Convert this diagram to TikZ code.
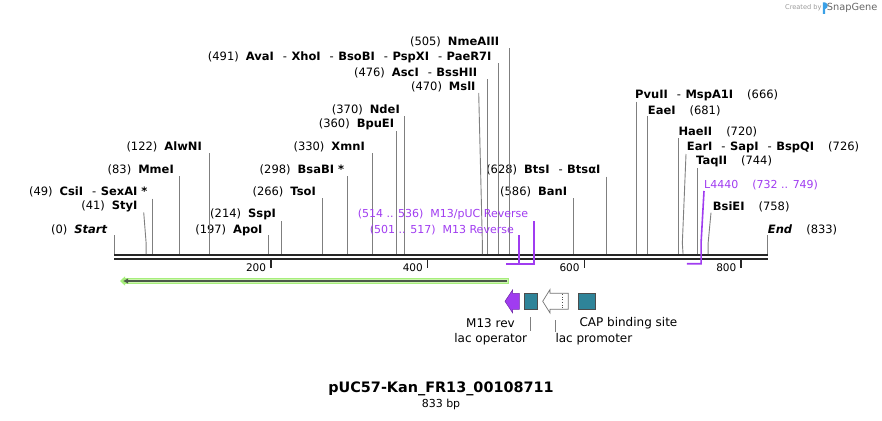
\documentclass[tikz,border=0pt]{standalone}
\usepackage{fontspec}
\setmainfont{DejaVu Sans}
\usetikzlibrary{calc,arrows.meta}
\definecolor{primer}{HTML}{A03CF0}
\definecolor{feat}{HTML}{2F8499}
\definecolor{orf}{HTML}{A6EE7C}
\definecolor{orfin}{HTML}{CDF6AE}
\definecolor{orfline}{HTML}{4A5848}
\definecolor{cutgray}{HTML}{7F7F7F}
\definecolor{snapblue}{HTML}{3AA0E6}
\newcommand{\bpx}[1]{114+#1*0.7838}
\newcommand{\enzl}[1]{(#1)\hspace{7pt}}
\newcommand{\enzr}[1]{\hspace{14pt}(#1)}
\newcommand{\enzsep}{\hspace{9pt}-\hspace{4.5pt}}

\begin{document}
\begin{tikzpicture}[x=1pt,y=-1pt,
    site/.style={inner sep=0pt,font=\fontsize{11.5}{13}\selectfont},
    prim/.style={inner sep=0pt,text=primer,font=\fontsize{11}{13}\selectfont},
    featlabel/.style={inner sep=0pt,font=\fontsize{12}{14}\selectfont},
    cut/.style={draw=cutgray,line width=0.9pt},
    primline/.style={draw=primer,line width=1.6pt},
    seqbar/.style={draw=black!85,line width=2.2pt},
    tick/.style={draw=black!85,line width=1.5pt},
    featbox/.style={draw=black!70,fill=feat,line width=0.6pt,inner sep=0pt,
        minimum width=13.7pt,minimum height=16pt}]
    \useasboundingbox (0,0) rectangle (882,420);

    % sequence
    \draw[seqbar] (114,255) -- (768,255);
    \draw[seqbar] (114,259) -- (768,259);
    \foreach \t in {200,400,600,800}{
        \draw[tick] ({\bpx{\t}},259) -- ++(0,8.7);
        \node[inner sep=0pt,anchor=east,font=\fontsize{10.5}{12}\selectfont]
            at ({\bpx{\t}-4.5},267.3) {\t};
    }

    % cut sites on the sequence
    \coordinate (sStart) at (114,254);
    \coordinate (sStyI) at ({\bpx{41}},254);
    \coordinate (sCsiI) at ({\bpx{49}},254);
    \coordinate (sMmeI) at ({\bpx{83}},254);
    \coordinate (sAlwNI) at ({\bpx{122}},254);
    \coordinate (sApoI) at ({\bpx{197}},254);
    \coordinate (sSspI) at ({\bpx{214}},254);
    \coordinate (sTsoI) at ({\bpx{266}},254);
    \coordinate (sBsaBI) at ({\bpx{298}},254);
    \coordinate (sXmnI) at ({\bpx{330}},254);
    \coordinate (sBpuEI) at ({\bpx{360}},254);
    \coordinate (sNdeI) at ({\bpx{370}},254);
    \coordinate (sMslI) at ({\bpx{470}},254);
    \coordinate (sAscI) at ({\bpx{476}},254);
    \coordinate (sAvaI) at ({\bpx{491}},254);
    \coordinate (sNmeAIII) at ({\bpx{505}},254);
    \coordinate (sBanI) at ({\bpx{586}},254);
    \coordinate (sBtsI) at ({\bpx{628}},254);
    \coordinate (sPvuII) at ({\bpx{666}},254);
    \coordinate (sEaeI) at ({\bpx{681}},254);
    \coordinate (sHaeII) at ({\bpx{720}},254);
    \coordinate (sEarI) at ({\bpx{726}},254);
    \coordinate (sTaqII) at ({\bpx{744}},254);
    \coordinate (sBsiEI) at ({\bpx{758}},254);
    \coordinate (sEnd) at (767.7,254);

    % labels left of their site
    \node[site,anchor=east] (lStart) at (107.7,230) {\enzl{0}\textbf{\textit{Start}}};
    \node[site,anchor=east] (lStyI) at (137.7,206.7) {\enzl{41}\textbf{StyI}};
    \node[site,anchor=east] (lCsiI) at (147.7,191.7) {\enzl{49}\textbf{CsiI}\enzsep\textbf{SexAI *}};
    \node[site,anchor=east] (lMmeI) at (174,170) {\enzl{83}\textbf{MmeI}};
    \node[site,anchor=east] (lAlwNI) at (202,146.7) {\enzl{122}\textbf{AlwNI}};
    \node[site,anchor=east] (lApoI) at (262.7,230) {\enzl{197}\textbf{ApoI}};
    \node[site,anchor=east] (lSspI) at (276,214.3) {\enzl{214}\textbf{SspI}};
    \node[site,anchor=east] (lTsoI) at (316,192.3) {\enzl{266}\textbf{TsoI}};
    \node[site,anchor=east] (lBsaBI) at (344.3,169.5) {\enzl{298}\textbf{BsaBI *}};
    \node[site,anchor=east] (lXmnI) at (365,146.7) {\enzl{330}\textbf{XmnI}};
    \node[site,anchor=east] (lBpuEI) at (394.3,124.5) {\enzl{360}\textbf{BpuEI}};
    \node[site,anchor=east] (lNdeI) at (400,109.5) {\enzl{370}\textbf{NdeI}};
    \node[site,anchor=east] (lMslI) at (475.7,87.3) {\enzl{470}\textbf{MslI}};
    \node[site,anchor=east] (lAscI) at (477.3,72.7) {\enzl{476}\textbf{AscI}\enzsep\textbf{BssHII}};
    \node[site,anchor=east] (lAvaI) at (491.7,57.3) {\enzl{491}\textbf{AvaI}\enzsep\textbf{XhoI}\enzsep\textbf{BsoBI}\enzsep\textbf{PspXI}\enzsep\textbf{PaeR7I}};
    \node[site,anchor=east] (lNmeAIII) at (499.3,42.3) {\enzl{505}\textbf{NmeAIII}};
    \node[site,anchor=east] (lBanI) at (567.3,191.7) {\enzl{586}\textbf{BanI}};
    \node[site,anchor=east] (lBtsI) at (600.7,169.5) {\enzl{628}\textbf{BtsI}\enzsep\textbf{BtsαI}};

    % labels right of their site
    \node[site,anchor=west] (lPvuII) at (635,95) {\textbf{PvuII}\enzsep\textbf{MspA1I}\enzr{666}};
    \node[site,anchor=west] (lEaeI) at (647.7,110.5) {\textbf{EaeI}\enzr{681}};
    \node[site,anchor=west] (lHaeII) at (678.3,132) {\textbf{HaeII}\enzr{720}};
    \node[site,anchor=west] (lEarI) at (686.7,147.3) {\textbf{EarI}\enzsep\textbf{SapI}\enzsep\textbf{BspQI}\enzr{726}};
    \node[site,anchor=west] (lTaqII) at (696,161.7) {\textbf{TaqII}\enzr{744}};
    \node[site,anchor=west] (lBsiEI) at (712.7,206.7) {\textbf{BsiEI}\enzr{758}};
    \node[site,anchor=west] (lEnd) at (767.7,230) {\textbf{\textit{End}}\enzr{833}};

    \draw[cut] (lStart.east -| sStart) ++(0,5) -- (sStart);
    \draw[cut] ($(lStyI.east)+(6,5.6)$) -- ($(sStyI)+(0,-10.7)$) -- (sStyI);
    \draw[cut] (lCsiI.east -| sCsiI) ++(0,7) -- (sCsiI);
    \draw[cut] (lMmeI.east -| sMmeI) ++(0,6) -- (sMmeI);
    \draw[cut] (lAlwNI.east -| sAlwNI) ++(0,6.5) -- (sAlwNI);
    \draw[cut] (lApoI.east -| sApoI) ++(0,5) -- (sApoI);
    \draw[cut] (lSspI.east -| sSspI) ++(0,6.7) -- (sSspI);
    \draw[cut] (lTsoI.east -| sTsoI) ++(0,6) -- (sTsoI);
    \draw[cut] (lBsaBI.east -| sBsaBI) ++(0,6.5) -- (sBsaBI);
    \draw[cut] (lXmnI.east -| sXmnI) ++(0,6.5) -- (sXmnI);
    \draw[cut] (lBpuEI.east -| sBpuEI) ++(0,6.5) -- (sBpuEI);
    \draw[cut] (lNdeI.east -| sNdeI) ++(0,6.5) -- (sNdeI);
    \draw[cut] ($(lMslI.east)+(3,5.7)$) -- ($(sMslI)+(0,-10)$) -- (sMslI);
    \draw[cut] (lAscI.east -| sAscI) ++(0,6.5) -- (sAscI);
    \draw[cut] (lAvaI.east -| sAvaI) ++(0,6) -- (sAvaI);
    \draw[cut] (lNmeAIII.east -| sNmeAIII) ++(0,6) -- (sNmeAIII);
    \draw[cut] (lBanI.east -| sBanI) ++(0,6.6) -- (sBanI);
    \draw[cut] (lBtsI.east -| sBtsI) ++(0,7) -- (sBtsI);
    \draw[cut] (lPvuII.west -| sPvuII) ++(0,6.5) -- (sPvuII);
    \draw[cut] (lEaeI.west -| sEaeI) ++(0,5.5) -- (sEaeI);
    \draw[cut] (lHaeII.west -| sHaeII) ++(0,6.3) -- (sHaeII);
    \draw[cut] ($(lEarI.west)+(-0.7,6.7)$) -- ($(sEarI)+(-0.7,-11)$) -- (sEarI);
    \draw[cut] (lTaqII.west -| sTaqII) ++(0,6.6) -- (sTaqII);
    \draw[cut] ($(lBsiEI.west)+(-1.7,6)$) -- ($(sBsiEI)+(0,-11)$) -- (sBsiEI);
    \draw[cut] (lEnd.west -| sEnd) ++(0,5) -- (sEnd);

    % primers
    \coordinate (pPUCr) at ({\bpx{536}},263.7);
    \coordinate (pPUCl) at ({\bpx{513}},263.7);
    \coordinate (pM13r) at ({\bpx{517}},263.7);
    \coordinate (pM13l) at ({\bpx{500}},263.7);
    \coordinate (pL4r) at ({\bpx{749}},263.7);
    \coordinate (pL4l) at ({\bpx{731}},263.7);
    \node[prim,anchor=east] (lPUC) at (528.3,214.3) {\enzl{514 .. 536}M13/pUC Reverse};
    \node[prim,anchor=east] (lM13) at (514,230) {\enzl{501 .. 517}M13 Reverse};
    \node[prim,anchor=west] (lL4440) at (704,185) {L4440\enzr{732 .. 749}};
    \draw[primline] (lPUC.east -| pPUCr) ++(0,6.7) -- (pPUCr) -- (pPUCl);
    \draw[primline] (lM13.east -| pM13r) ++(0,5) -- (pM13r) -- (pM13l);
    \draw[primline] ($(lL4440.west)+(0,6)$) -- ($(pL4r)+(0,-20.7)$) -- (pL4r) -- (pL4l);

    % ORF arrow
    \coordinate (orfR) at (509,281);
    \coordinate (orfL) at (120,281);
    \draw[draw=orf,line width=6.5pt,-{Triangle[length=5pt,width=9pt]}] (orfR) -- (orfL);
    \draw[draw=orfin,line width=3.5pt] ($(orfR)+(-1.5,0)$) -- ($(orfL)+(7,0)$);
    \draw[draw=orfline,line width=2pt,-{Latex[length=5pt,width=5.5pt]}] ($(orfR)+(-2,0)$) -- ($(orfL)+(3,0)$);

    % features
    \draw[fill=primer,draw=primer!70!black,line width=0.5pt] (519.3,293.3) -- (512.5,293.3) -- (512.5,290)
        -- (505,301.3) -- (512.5,312.7) -- (512.5,309.3) -- (519.3,309.3) -- cycle;
    \node[featbox] (fOp) at (530.9,301.3) {};
    \coordinate (fProm) at (555.5,301.3);
    \draw[fill=white,draw=black!55,line width=0.7pt] (568.3,293.3) -- (550,293.3) -- (550,289.5)
        -- (542.7,301.3) -- (550,313) -- (550,309.3) -- (568.3,309.3) -- cycle;
    \draw[black!70,dotted,line width=0.7pt] (562.7,293.8) -- (562.7,308.8);
    \node[featbox,minimum width=17.4pt] (fCAP) at (587,301.3) {};

    \node[featlabel,anchor=east] (lM13rev) at (515,322.7) {M13 rev};
    \node[featlabel,anchor=east] (lOp) at (527.3,339.3) {lac operator};
    \node[featlabel,anchor=west] (lProm) at (555.3,339.3) {lac promoter};
    \node[featlabel,anchor=west] (lCAP) at (579.3,322.7) {CAP binding site};
    \draw[cut] ($(fOp.south)+(0,7.4)$) -- ($(lOp.north -| fOp.south)+(0,-2.7)$);
    \draw[cut] ($(fProm)+(0,18.7)$) -- ($(lProm.north -| fProm)+(0,-1.7)$);

    % title
    \node[inner sep=0pt,font=\fontsize{14.4}{16}\selectfont\bfseries] (title) at (441,389) {pUC57-Kan\_FR13\_00108711};
    \node[inner sep=0pt,font=\fontsize{11}{13}\selectfont] (len) at (441,404.3) {833 bp};

    % credit
    \node[inner sep=0pt,anchor=east,text=black!40,font=\fontsize{6.6}{8}\selectfont] (credit) at (821.7,8) {Created by};
    \fill[snapblue] (822.8,2.5) -- (825.2,2.5) .. controls (828.5,3.5) and (828.5,8) .. (825.2,9) -- (825.2,14) -- (822.8,14) -- cycle;
    \node[inner sep=0pt,anchor=west,text=black!60,font=\fontsize{9.8}{11}\selectfont] (snap) at (826.7,8) {SnapGene};
\end{tikzpicture}
\end{document}
